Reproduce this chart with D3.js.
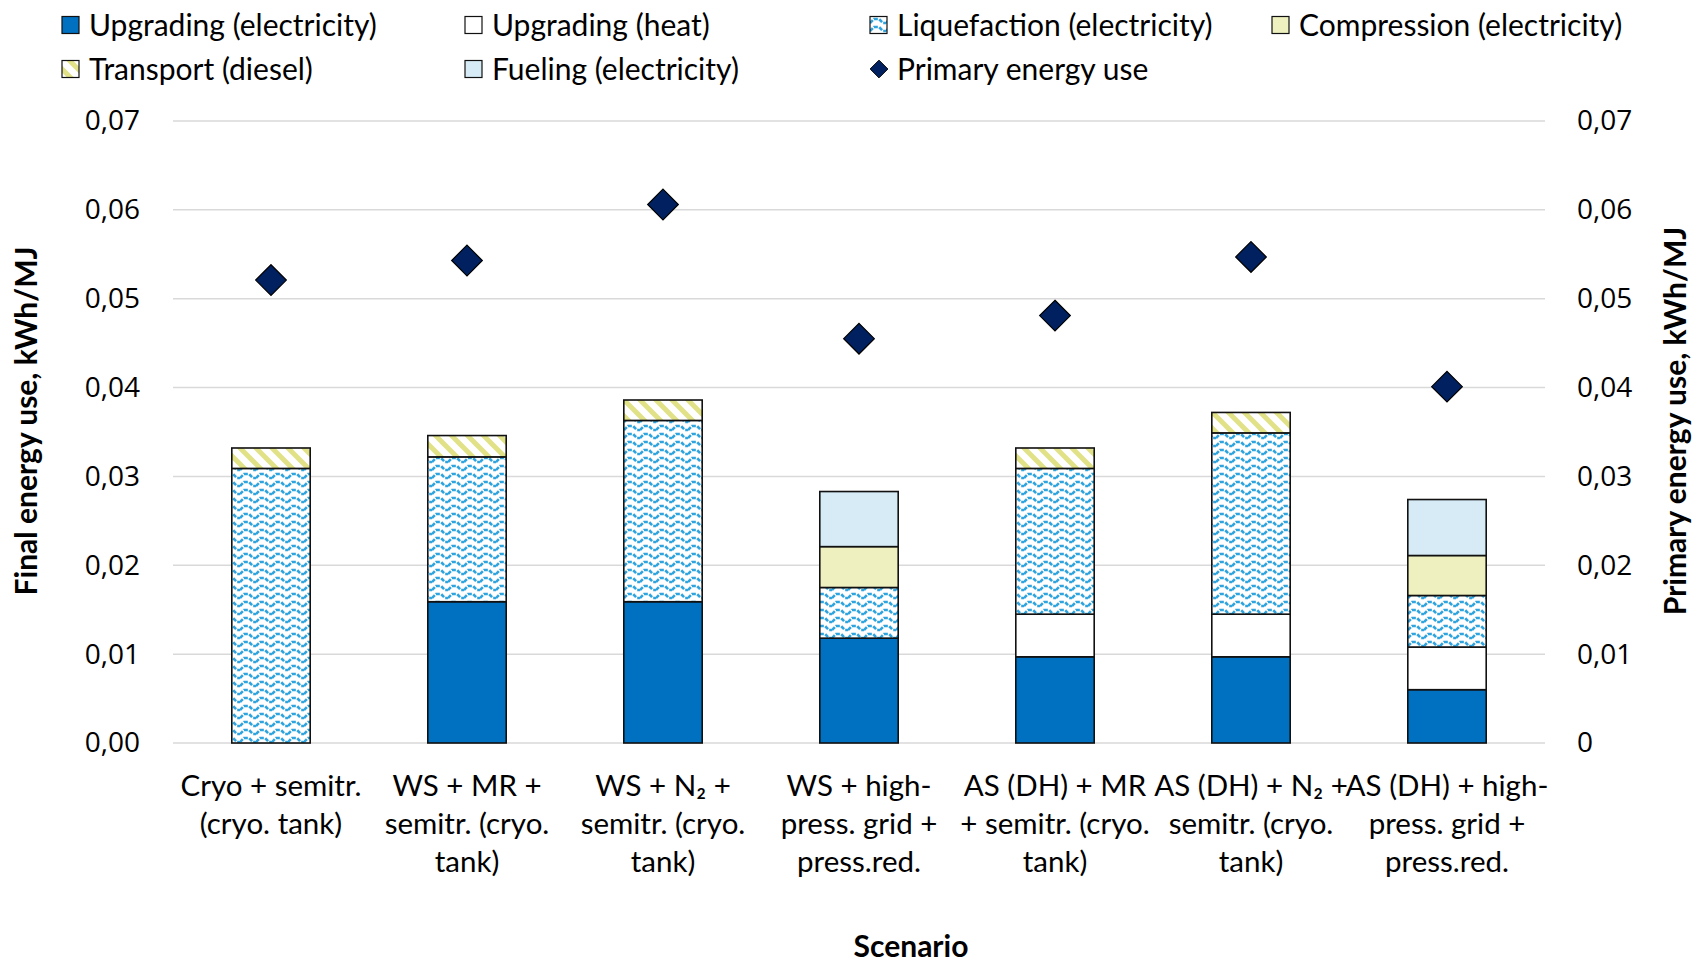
<!DOCTYPE html>
<html>
<head>
<meta charset="utf-8">
<script src="https://cdn.jsdelivr.net/npm/d3@7"></script>
<style>
  body { margin: 0; background: #fff; }
  text { font-family: Lato, "Open Sans", sans-serif; fill: #000; }
</style>
</head>
<body>
<svg id="chart" width="1694" height="962"></svg>
<script>
// data
var scenarios = [
  ["Cryo + semitr.", "(cryo. tank)"],
  ["WS + MR +", "semitr. (cryo.", "tank)"],
  ["WS + N\u2082 +", "semitr. (cryo.", "tank)"],
  ["WS + high-", "press. grid +", "press.red."],
  ["AS (DH) + MR", "+ semitr. (cryo.", "tank)"],
  ["AS (DH) + N\u2082 +", "semitr. (cryo.", "tank)"],
  ["AS (DH) + high-", "press. grid +", "press.red."]
];
var seriesNames = ["Upgrading (electricity)", "Upgrading (heat)", "Liquefaction (electricity)",
                   "Compression (electricity)", "Transport (diesel)", "Fueling (electricity)"];
var upgradingElec = [0, 0.0159, 0.0159, 0.0118, 0.0097, 0.0097, 0.0060];
var upgradingHeat = [0, 0, 0, 0, 0.0048, 0.0048, 0.0048];
var liquefaction  = [0.0309, 0.0163, 0.0204, 0.0057, 0.0164, 0.0204, 0.0058];
var compression   = [0, 0, 0, 0.0046, 0, 0, 0.0045];
var transport     = [0.0023, 0.0024, 0.0023, 0, 0.0023, 0.0023, 0];
var fueling       = [0, 0, 0, 0.0062, 0, 0, 0.0063];
var primaryEnergy = [0.0521, 0.0543, 0.0606, 0.0455, 0.0481, 0.0547, 0.0401];
var yTicks = [0, 0.01, 0.02, 0.03, 0.04, 0.05, 0.06, 0.07];

var svg = d3.select("svg#chart");
var margin = {left: 173, right: 149, top: 121, bottom: 219};
var width = +svg.attr("width"), height = +svg.attr("height");

// fills
var defs = svg.append("defs");
var wave = defs.append("pattern").attr("id", "wave")
               .attr("patternUnits", "userSpaceOnUse")
               .attr("width", 16).attr("height", 8);
wave.append("rect").attr("width", 16).attr("height", 8).attr("fill", "#fff");
wave.append("path")
    .attr("d", "M0,6 L4,2 L9,2 L13,6 L16,6")
    .attr("fill", "none")
    .attr("stroke", "#2FA4DE")
    .attr("stroke-width", 2.6)
    .attr("stroke-dasharray", "4,1.5");

var stripes = defs.append("pattern").attr("id", "stripes")
                  .attr("patternUnits", "userSpaceOnUse")
                  .attr("width", 16).attr("height", 16);
stripes.append("rect").attr("width", 16).attr("height", 16).attr("fill", "#fff");
stripes.append("path")
       .attr("d", "M-4,-4 L20,20 M-4,12 L4,20 M12,-4 L20,4")
       .attr("stroke", "#E1E288")
       .attr("stroke-width", 5);

var fills = ["#0070C0", "#FFFFFF", "url(#wave)", "#EEF1BF", "url(#stripes)", "#D7EBF6"];

// scales
var x = d3.scaleBand()
          .domain(d3.range(scenarios.length))
          .range([margin.left, width - margin.right])
          .paddingInner(0.6).paddingOuter(0.3);
var y = d3.scaleLinear().domain([0, 0.07]).range([height - margin.bottom, margin.top]);

var loc = d3.formatLocale({decimal: ",", thousands: ".", grouping: [3], currency: ["", ""]});
var fmt = loc.format(".2f");

// gridlines
svg.append("g").selectAll("line")
   .data(yTicks).enter().append("line")
   .attr("x1", margin.left).attr("x2", width - margin.right)
   .attr("y1", function(d) { return y(d); })
   .attr("y2", function(d) { return y(d); })
   .attr("stroke", "#D9D9D9")
   .attr("stroke-width", 1.5);

// left axis
var yLeft = svg.append("g")
   .attr("transform", "translate(" + (margin.left - 33) + ",0)")
   .call(d3.axisLeft(y).tickValues(yTicks).tickFormat(fmt).tickSize(0).tickPadding(0));
// right axis
var yRight = svg.append("g")
   .attr("transform", "translate(" + (width - margin.right + 32) + ",0)")
   .call(d3.axisRight(y).tickValues(yTicks)
           .tickFormat(function(d) { return d === 0 ? "0" : fmt(d); })
           .tickSize(0).tickPadding(0));
[yLeft, yRight].forEach(function(g) {
  g.select(".domain").remove();
  g.selectAll("text").style("font-family", "'Open Sans', sans-serif")
   .style("font-size", "28px").attr("fill", "#000");
});

// stacked bars
var rows = scenarios.map(function(s, i) {
  return {i: i, v: [upgradingElec[i], upgradingHeat[i], liquefaction[i], compression[i], transport[i], fueling[i]]};
});
var stack = d3.stack().keys(d3.range(6)).value(function(d, k) { return d.v[k]; });
var layers = stack(rows);

svg.append("g").selectAll("g")
   .data(layers).enter().append("g")
   .attr("fill", function(d) { return fills[d.key]; })
   .selectAll("rect")
   .data(function(d) { return d.filter(function(p) { return p[1] - p[0] > 0; }); })
   .enter().append("rect")
   .attr("x", function(d) { return x(d.data.i); })
   .attr("width", x.bandwidth())
   .attr("y", function(d) { return y(d[1]); })
   .attr("height", function(d) { return y(d[0]) - y(d[1]); })
   .attr("stroke", "#111")
   .attr("stroke-width", 1.6);

// primary energy diamonds
var diamond = d3.symbol().type(d3.symbolDiamond2).size(600);
svg.append("g").selectAll("path")
   .data(primaryEnergy).enter().append("path")
   .attr("d", diamond)
   .attr("transform", function(d, i) {
     return "translate(" + (x(i) + x.bandwidth() / 2) + "," + y(d) + ")";
   })
   .attr("fill", "#002060")
   .attr("stroke", "#000")
   .attr("stroke-width", 1.2);

// category labels
var cat = svg.append("g").selectAll("text")
   .data(scenarios).enter().append("text")
   .attr("text-anchor", "middle")
   .style("font-size", "29.5px")
   .attr("x", function(d, i) { return x(i) + x.bandwidth() / 2; })
   .attr("y", 796);
cat.selectAll("tspan")
   .data(function(d) { return d; }).enter().append("tspan")
   .attr("x", function() { return d3.select(this.parentNode).attr("x"); })
   .attr("dy", function(d, j) { return j === 0 ? 0 : 38; })
   .text(function(d) { return d; });

// axis titles
var midY = 421;
svg.append("text")
   .attr("transform", "translate(37," + midY + ") rotate(-90)")
   .attr("text-anchor", "middle")
   .style("font-size", "30px").style("font-weight", "bold")
   .text("Final energy use, kWh/MJ");
svg.append("text")
   .attr("transform", "translate(1686," + midY + ") rotate(-90)")
   .attr("text-anchor", "middle")
   .style("font-size", "30px").style("font-weight", "bold")
   .text("Primary energy use, kWh/MJ");
svg.append("text")
   .attr("x", 911)
   .attr("y", 957)
   .attr("text-anchor", "middle")
   .style("font-size", "30px").style("font-weight", "bold")
   .text("Scenario");

// legend
var legendItems = seriesNames.map(function(n, k) { return {name: n, fill: fills[k], type: "rect"}; });
legendItems.push({name: "Primary energy use", type: "diamond"});
var legendPos = [[62, 25], [465, 25], [870, 25], [1272, 25], [62, 69], [465, 69], [870, 69]];

var leg = svg.append("g").selectAll("g")
   .data(legendItems).enter().append("g")
   .attr("transform", function(d, i) { return "translate(" + legendPos[i][0] + "," + legendPos[i][1] + ")"; });
leg.filter(function(d) { return d.type === "rect"; })
   .append("rect")
   .attr("x", 0).attr("y", -8.5).attr("width", 17).attr("height", 17)
   .attr("fill", function(d) { return d.fill; })
   .attr("stroke", "#111").attr("stroke-width", 1.2);
leg.filter(function(d) { return d.type === "diamond"; })
   .append("path")
   .attr("d", d3.symbol().type(d3.symbolDiamond2).size(200))
   .attr("transform", "translate(9,0)")
   .attr("fill", "#002060").attr("stroke", "#000").attr("stroke-width", 1);
leg.append("text")
   .attr("x", 27).attr("y", 0).attr("dy", "0.35em")
   .style("font-size", "30px")
   .text(function(d) { return d.name; });
</script>
</body>
</html>
